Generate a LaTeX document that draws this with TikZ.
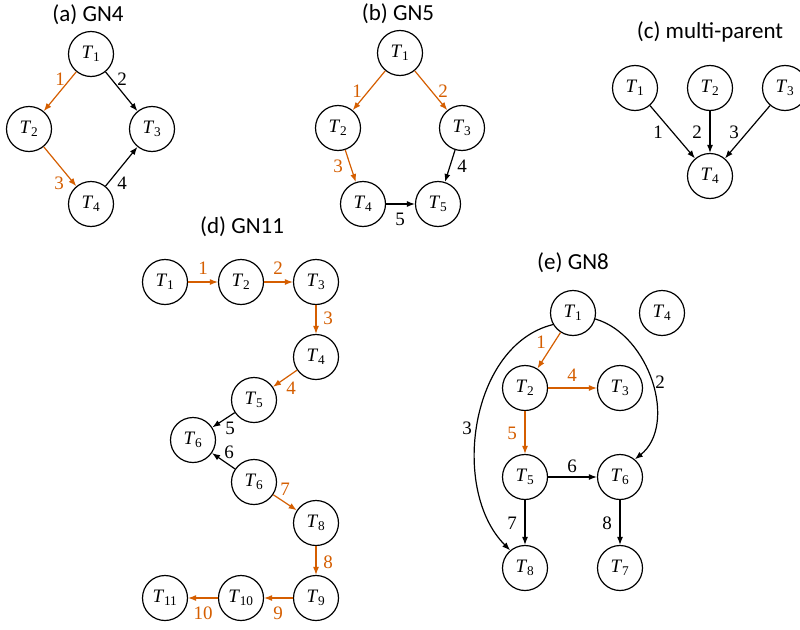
\documentclass[tikz,border=0pt]{standalone}
\usepackage{fontspec}
\setmainfont{Liberation Serif}
\newfontfamily\titlefont{Carlito}
\newfontfamily\serfont{Liberation Serif}
\usetikzlibrary{arrows.meta}
\definecolor{orng}{RGB}{213,94,0}
\newcommand{\Tn}[1]{\textit{T}\kern-0.3pt\textsubscript{#1}}
\begin{document}
\begin{tikzpicture}[x=1pt,y=-1pt,
  tn/.style={circle,draw,line width=1.2pt,minimum size=45pt,inner sep=0pt,font=\serfont\fontsize{19}{22}\selectfont},
  ttl/.style={font=\titlefont\fontsize{23}{26}\selectfont,inner sep=0pt},
  lbl/.style={font=\serfont\fontsize{19}{22}\selectfont,inner sep=0pt},
  olbl/.style={lbl,text=orng},
  ed/.style={line width=1.2pt,-{Latex[length=8pt,width=6pt]}},
  oed/.style={ed,orng}]
\path[fill=white,use as bounding box] (0,0) rectangle (800,629);

% (a) GN4
\node[ttl] (ta) at (88,15) {(a) GN4};
\node[tn] (a1) at (91,54) {\Tn{1}};
\node[tn] (a2) at (29,129) {\Tn{2}};
\node[tn] (a3) at (152,129) {\Tn{3}};
\node[tn] (a4) at (91,204) {\Tn{4}};
\draw[oed] (a1) -- (a2);
\draw[ed] (a1) -- (a3);
\draw[oed] (a2) -- (a4);
\draw[ed] (a4) -- (a3);
\node[olbl] (la1) at (60,79) {1};
\node[lbl] (la2) at (122,79) {2};
\node[olbl] (la3) at (59,183) {3};
\node[lbl] (la4) at (122,183) {4};

% (b) GN5
\node[ttl] (tb) at (398,14) {(b) GN5};
\node[tn] (b1) at (400,53) {\Tn{1}};
\node[tn] (b2) at (338,128) {\Tn{2}};
\node[tn] (b3) at (462,128) {\Tn{3}};
\node[tn] (b4) at (363,204) {\Tn{4}};
\node[tn] (b5) at (438,204) {\Tn{5}};
\draw[oed] (b1) -- (b2);
\draw[oed] (b1) -- (b3);
\draw[oed] (b2) -- (b4);
\draw[ed] (b3) -- (b5);
\draw[ed] (b4) -- (b5);
\node[olbl] (lb1) at (357,91) {1};
\node[olbl] (lb2) at (443,91) {2};
\node[olbl] (lb3) at (338,166) {3};
\node[lbl] (lb4) at (462,166) {4};
\node[lbl] (lb5) at (400,219) {5};

% (c) multi-parent
\node[ttl] (tc) at (710,32) {(c) multi-parent};
\node[tn] (c1) at (635,88) {\Tn{1}};
\node[tn] (c2) at (710,88) {\Tn{2}};
\node[tn] (c3) at (785,88) {\Tn{3}};
\node[tn] (c4) at (710,176) {\Tn{4}};
\draw[ed] (c1) -- (c4);
\draw[ed] (c2) -- (c4);
\draw[ed] (c3) -- (c4);
\node[lbl] (lc1) at (658,132) {1};
\node[lbl] (lc2) at (697,132) {2};
\node[lbl] (lc3) at (734,132) {3};

% (d) GN11
\node[ttl] (td) at (242,227) {(d) GN11};
\node[tn] (d1) at (165,282) {\Tn{1}};
\node[tn] (d2) at (241,282) {\Tn{2}};
\node[tn] (d3) at (316,282) {\Tn{3}};
\node[tn] (d4) at (316,357) {\Tn{4}};
\node[tn] (d5) at (254,400) {\Tn{5}};
\node[tn] (d6) at (193,440) {\Tn{6}};
\node[tn] (d6b) at (254,482) {\Tn{6}};
\node[tn] (d8) at (316,523) {\Tn{8}};
\node[tn] (d9) at (316,598) {\Tn{9}};
\node[tn] (d10) at (241,598) {\Tn{10}};
\node[tn] (d11) at (165,598) {\Tn{11}};
\draw[oed] (d1) -- (d2);
\draw[oed] (d2) -- (d3);
\draw[oed] (d3) -- (d4);
\draw[oed] (d4) -- (d5);
\draw[ed] (d5) -- (d6);
\draw[ed] (d6b) -- (d6);
\draw[oed] (d6b) -- (d8);
\draw[oed] (d8) -- (d9);
\draw[oed] (d9) -- (d10);
\draw[oed] (d10) -- (d11);
\node[olbl] (ld1) at (203,268) {1};
\node[olbl] (ld2) at (278,268) {2};
\node[olbl] (ld3) at (328,318) {3};
\node[olbl] (ld4) at (291,388) {4};
\node[lbl] (ld5) at (230,428) {5};
\node[lbl] (ld6) at (229,452) {6};
\node[olbl] (ld7) at (285,489) {7};
\node[olbl] (ld8) at (328,562) {8};
\node[olbl] (ld9) at (278,613) {9};
\node[olbl] (ld10) at (203,613) {10};

% (e) GN8
\node[ttl] (te) at (573,263) {(e) GN8};
\node[tn] (e1) at (573,313) {\Tn{1}};
\node[tn] (e4) at (662,313) {\Tn{4}};
\node[tn] (e2) at (525,388) {\Tn{2}};
\node[tn] (e3) at (620,388) {\Tn{3}};
\node[tn] (e5) at (525,477) {\Tn{5}};
\node[tn] (e6) at (620,477) {\Tn{6}};
\node[tn] (e8) at (525,568) {\Tn{8}};
\node[tn] (e7) at (620,568) {\Tn{7}};
\draw[oed] (e1) -- (e2);
\draw[oed] (e2) -- (e3);
\draw[oed] (e2) -- (e5);
\draw[ed] (e5) -- (e6);
\draw[ed] (e5) -- (e8);
\draw[ed] (e6) -- (e7);
\draw[ed] (e1.210) .. controls (470,345) and (450,490) .. (e8.130);
\draw[ed] (e1.-15) .. controls (650,335) and (678,425) .. (e6.50);
\node[olbl] (le1) at (541,342) {1};
\node[olbl] (le4) at (572,375) {4};
\node[lbl] (le2) at (660,382) {2};
\node[lbl] (le3) at (467,428) {3};
\node[olbl] (le5) at (512,433) {5};
\node[lbl] (le6) at (572,466) {6};
\node[lbl] (le7) at (512,523) {7};
\node[lbl] (le8) at (607,523) {8};
\end{tikzpicture}
\end{document}
